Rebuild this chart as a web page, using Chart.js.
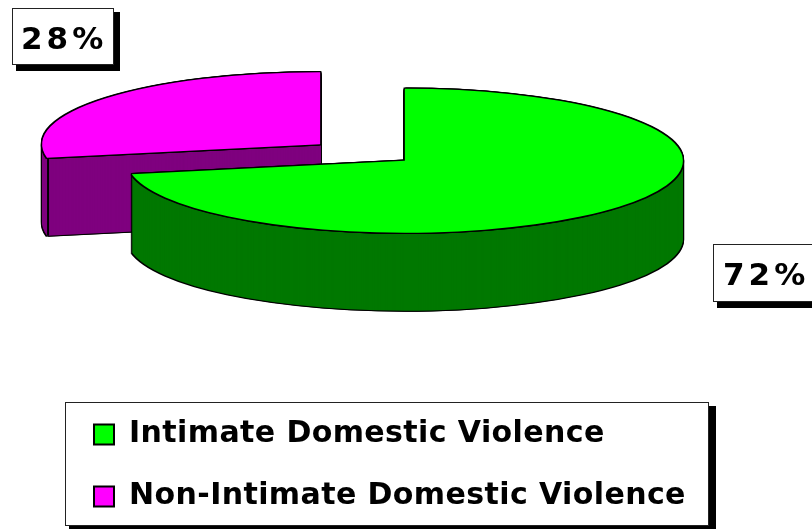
<!DOCTYPE html>
<html>
<head>
<meta charset="utf-8">
<style>
  html, body { margin: 0; padding: 0; background: #fff; overflow: hidden; }
  canvas { display: block; }
</style>
<script src="https://cdn.jsdelivr.net/npm/chart.js@4"></script>
</head>
<body>
<canvas id="pieChart" width="812" height="529"></canvas>
<script>
const categories = ["Intimate Domestic Violence", "Non-Intimate Domestic Violence"];
const shares = [72, 28];
const topColors = ["#00ff00", "#ff00ff"];
const sideColors = ["#007800", "#7f007f"];
const labelBoxes = [
  { x: 713, y: 244, w: 104, h: 58, shadow: 6, textX: 723 },
  { x: 12, y: 8, w: 102, h: 57, shadow: 6, textX: 21 }
];

const FONT = '"DejaVu Sans"';
const pieRadius = 278;
const pieSquash = 0.259;
const pieDepth = 78;
const pieCenterX = 362.5;
const pieCenterY = 152.5;
const explode = 55;
const explodeSquash = 0.235;
const outline = 1.3;

function paintArc(ctx, arc, x, y, color) {
  const copy = new Chart.ArcElement({
    x: arc.x,
    y: arc.y,
    startAngle: arc.startAngle,
    endAngle: arc.endAngle,
    circumference: arc.circumference,
    innerRadius: arc.innerRadius,
    outerRadius: arc.outerRadius,
    options: { ...arc.options, backgroundColor: color, borderWidth: 0, offset: 0, spacing: 0 }
  });
  ctx.save();
  ctx.translate(x, y);
  ctx.scale(1, pieSquash);
  ctx.translate(-arc.x, -arc.y);
  copy.draw(ctx);
  ctx.restore();
}

function drawBox(ctx, x, y, w, h, shadow) {
  ctx.fillStyle = "#000";
  ctx.fillRect(x + 4, y + 4, w - 4 + shadow, h - 4 + shadow);
  ctx.fillStyle = "#fff";
  ctx.fillRect(x, y, w, h);
  ctx.strokeStyle = "#222";
  ctx.lineWidth = 1;
  ctx.strokeRect(x + 0.5, y + 0.5, w - 1, h - 1);
}

const pie3d = {
  id: "pie3d",
  beforeDatasetsDraw(chart) {
    const ctx = chart.ctx;
    const arcs = chart.getDatasetMeta(0).data;
    ctx.letterSpacing = "0px";

    // back slice first so the big one sits over it
    for (let i = arcs.length - 1; i >= 0; i--) {
      const arc = arcs[i];
      const mid = (arc.startAngle + arc.endAngle) / 2;
      const cx = pieCenterX + Math.cos(mid) * explode;
      const cy = pieCenterY + Math.sin(mid) * explode * explodeSquash;

      for (let d = pieDepth + 1; d >= 0; d--) {
        paintArc(ctx, arc, cx - outline, cy + d, "#000");
        paintArc(ctx, arc, cx + outline, cy + d, "#000");
      }
      for (let d = pieDepth; d >= 0; d--) {
        paintArc(ctx, arc, cx, cy + d, sideColors[i]);
      }

      // vertical edge where a cut face meets the rim
      if (Math.sin(arc.startAngle) > 0) {
        const ex = cx + Math.cos(arc.startAngle) * pieRadius;
        const ey = cy + Math.sin(arc.startAngle) * pieRadius * pieSquash;
        ctx.save();
        ctx.strokeStyle = "#000";
        ctx.lineWidth = 2;
        ctx.beginPath();
        ctx.moveTo(ex + 1, ey);
        ctx.lineTo(ex + 1, ey + pieDepth);
        ctx.stroke();
        ctx.restore();
      }

      [[-1, -1], [1, -1], [-1, 1], [1, 1], [0, -1], [0, 1], [-1, 0], [1, 0]].forEach(([ox, oy]) => {
        paintArc(ctx, arc, cx + ox * outline, cy + oy * outline, "#000");
      });
      paintArc(ctx, arc, cx, cy, topColors[i]);
    }
    return false;
  },
  afterDraw(chart) {
    const ctx = chart.ctx;
    ctx.save();
    labelBoxes.forEach((box, i) => {
      drawBox(ctx, box.x, box.y, box.w, box.h, box.shadow);
      ctx.fillStyle = "#000";
      ctx.font = "bold 31px " + FONT;
      ctx.letterSpacing = "4px";
      ctx.textBaseline = "alphabetic";
      ctx.textAlign = "left";
      ctx.fillText(shares[i] + "%", box.textX, box.y + 41);
      ctx.letterSpacing = "0px";
    });
    ctx.restore();
  }
};

const legendFrame = {
  id: "legendFrame",
  beforeDraw(chart) {
    drawBox(chart.ctx, 65, 402, 644, 124, 7);
    // the legend draws straight after this and has no spacing option
    chart.ctx.letterSpacing = "0.4px";
  }
};

new Chart(document.getElementById("pieChart"), {
  type: "pie",
  data: {
    labels: categories,
    datasets: [{
      data: shares,
      backgroundColor: topColors,
      borderColor: "#000",
      borderWidth: 2
    }]
  },
  options: {
    responsive: false,
    animation: false,
    radius: pieRadius,
    layout: { padding: { left: 62, bottom: 7.5 } },
    plugins: {
      tooltip: { enabled: false },
      legend: {
        position: "bottom",
        align: "start",
        labels: {
          boxWidth: 20,
          boxHeight: 20,
          padding: 32,
          color: "#000",
          font: { family: FONT, size: 30, weight: "bold" }
        }
      }
    }
  },
  plugins: [legendFrame, pie3d]
});
</script>
</body>
</html>
